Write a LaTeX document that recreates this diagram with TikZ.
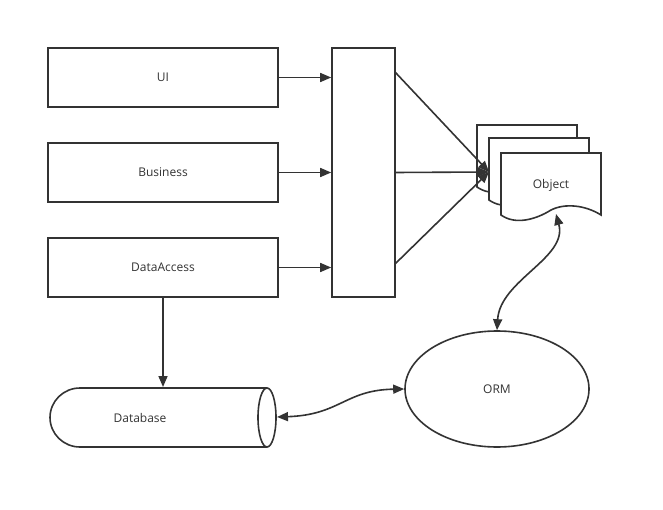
\documentclass[tikz,border=0pt]{standalone}
\usepackage{fontspec}
\setmainfont{Open Sans}
\usetikzlibrary{arrows.meta,shapes.geometric}
\begin{document}
\begin{tikzpicture}[x=1pt,y=-1pt,
  line width=1.6pt, draw={rgb,255:red,51;green,51;blue,51},
  box/.style={draw, fill=white, inner sep=0pt},
  lbl/.style={font=\fontsize{12}{14}\selectfont, text={rgb,255:red,51;green,51;blue,51}},
  arr/.style={-{Triangle[length=11pt,width=9pt]}},
  darr/.style={{Triangle[length=11pt,width=9pt]}-{Triangle[length=11pt,width=9pt]}},
  page/.style={draw, fill=white, line join=miter}]
\useasboundingbox (0,0) rectangle (663,510);
\node[box, minimum width=230, minimum height=59, lbl] (ui) at (163,77.5) {UI};
\node[box, minimum width=230, minimum height=59, lbl] (bus) at (163,172.5) {Business};
\node[box, minimum width=230, minimum height=59, lbl] (da) at (163,267.5) {DataAccess};
\node[box, minimum width=63, minimum height=249] (tall) at (363.5,172.5) {};
% object pages
\foreach \x/\y in {477/125, 489/138, 501/153}{
  \draw[page] (\x,\y) -- (\x+100,\y) -- (\x+100,\y+62)
    .. controls (\x+84,\y+52) and (\x+64,\y+50) .. (\x+50,\y+57)
    .. controls (\x+34,\y+67) and (\x+14,\y+72) .. (\x,\y+62) -- cycle;
}
\node[lbl] (obj) at (551,185) {Object};
\coordinate (objin) at (489,172);
\coordinate (objb) at (556,214);
% ORM
\node[ellipse, draw, minimum width=184, minimum height=116, lbl] (orm) at (497,389) {ORM};
% database cylinder
\draw (267,388) -- (80,388) arc[start angle=270, end angle=90, x radius=30, y radius=29.5] -- (267,447);
\draw (267,417.5) ellipse[x radius=9, y radius=29.5];
\node[lbl] (db) at (140,418) {Database};
\coordinate (dbr) at (277,417);
% connectors
\draw[arr] (ui.east) -- (ui.east -| tall.west);
\draw[arr] (bus.east) -- (bus.east -| tall.west);
\draw[arr] (da.east) -- (da.east -| tall.west);
\draw[arr] (395,72) -- (objin);
\draw[arr] (395,172.5) -- (objin);
\draw[arr] (395,264) -- (objin);
\draw[arr] (da.south) -- (163,387);
\draw[darr] (objb) .. controls (568,258) and (500,280) .. (orm.north);
\draw[darr] (dbr) .. controls (340,415) and (345,390) .. (orm.west);
\end{tikzpicture}
\end{document}
